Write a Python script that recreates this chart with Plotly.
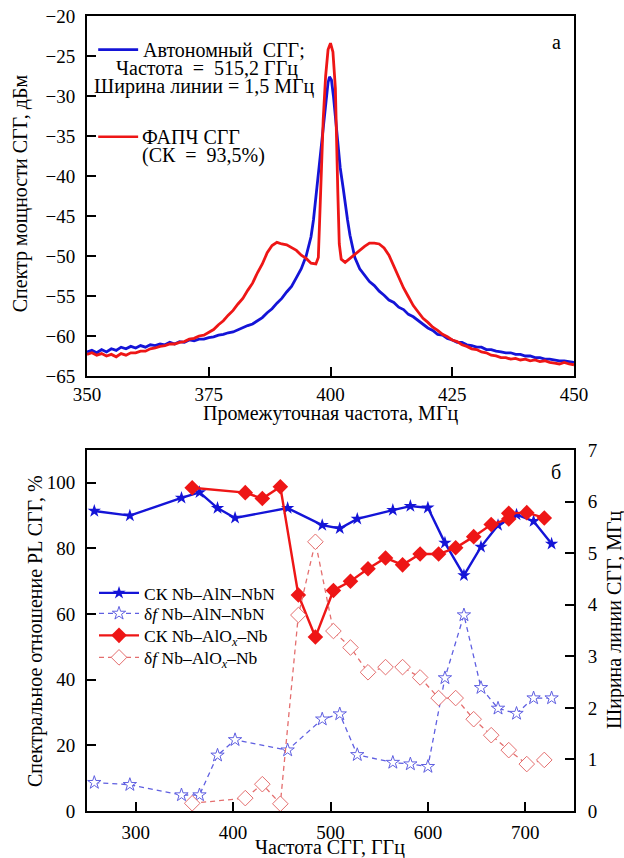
import plotly.graph_objects as go

# ---------------- panel (а): IF spectra ----------------
if_free = [350, 351, 352, 353, 354, 355, 356, 357, 358, 359, 360, 361, 362, 363, 364, 365,
           366, 367, 368, 369, 370, 371, 372, 373, 374, 375, 376, 377, 378, 379, 380, 381,
           382, 383, 384, 385, 386, 387, 388, 389, 390, 391, 392, 393, 394, 395, 396, 396.5,
           397, 397.5, 398, 398.5, 399, 399.5, 399.8, 400.2, 400.6, 401, 401.5, 402, 402.6,
           403, 403.5, 404, 405, 406, 407, 408, 409, 410, 411, 412, 413, 414, 415, 416, 417,
           418, 419, 420, 421, 422, 423, 424, 425, 426, 427, 428, 429, 430, 431, 432, 433,
           434, 435, 436, 437, 438, 439, 440, 441, 442, 443, 444, 445, 446, 447, 448, 449, 450]
p_free = [-62.0, -61.8, -62.1, -61.7, -62.0, -61.6, -61.8, -61.4, -61.6, -61.3, -61.5, -61.2,
          -61.4, -61.1, -61.2, -61.0, -61.1, -60.8, -61.0, -60.7, -60.8, -60.5, -60.6, -60.4,
          -60.4, -60.2, -60.1, -59.9, -59.8, -59.6, -59.5, -59.2, -59.0, -58.7, -58.5, -58.1,
          -57.7, -57.1, -56.6, -55.9, -55.3, -54.5, -53.8, -52.7, -51.6, -50.0, -47.6, -45.5,
          -42.5, -39.5, -36.5, -33.5, -30.5, -28.3, -27.6, -28.0, -30.0, -32.5, -35.8, -39.0,
          -41.5, -43.5, -45.5, -47.4, -50.2, -51.6, -52.4, -53.2, -53.7, -54.4, -54.9, -55.5,
          -55.8, -56.4, -56.7, -57.3, -57.6, -58.1, -58.5, -59.0, -59.3, -59.8, -59.9, -60.3,
          -60.5, -60.8, -60.8, -61.1, -61.2, -61.4, -61.4, -61.7, -61.7, -61.9, -62.0, -62.1,
          -62.1, -62.3, -62.3, -62.5, -62.5, -62.7, -62.7, -62.9, -62.9, -63.0, -63.1, -63.1,
          -63.2, -63.3]

if_pll = [350, 351, 352, 353, 354, 355, 356, 357, 358, 359, 360, 361, 362, 363, 364, 365,
          366, 367, 368, 369, 370, 371, 372, 373, 374, 375, 376, 377, 378, 379, 380, 381,
          382, 383, 384, 385, 386, 387, 388, 389, 390, 391, 392, 393, 394, 395, 396, 397,
          397.5, 397.8, 398.1, 398.5, 399, 399.5, 400, 400.5, 401, 401.3, 401.5, 401.8, 402.2,
          403, 404, 405, 406, 407, 408, 409, 410, 411, 412, 413, 414, 415, 416, 417, 418,
          419, 420, 421, 422, 423, 424, 425, 426, 427, 428, 429, 430, 431, 432, 433, 434,
          435, 436, 437, 438, 439, 440, 441, 442, 443, 444, 445, 446, 447, 448, 449, 450]
p_pll = [-62.3, -62.1, -62.4, -62.2, -62.5, -62.3, -62.6, -62.2, -62.4, -62.1, -62.1, -61.9,
         -61.9, -61.6, -61.5, -61.3, -61.2, -61.0, -61.0, -60.8, -60.7, -60.4, -60.3, -60.0,
         -59.9, -59.5, -59.2, -58.6, -58.1, -57.4, -56.8, -56.0, -55.3, -54.3, -53.4, -52.1,
         -51.0, -49.6, -48.7, -48.3, -48.5, -48.6, -49.0, -49.3, -49.9, -50.3, -50.9, -51.0,
         -50.2, -45.0, -40.0, -33.0, -27.5, -24.2, -23.4, -24.5, -29.0, -35.0, -42.0, -48.5,
         -50.4, -50.8, -50.3, -49.8, -49.2, -48.8, -48.4, -48.4, -48.5, -49.0, -49.9, -51.3,
         -52.6, -54.0, -55.1, -56.2, -57.0, -57.8, -58.3, -58.9, -59.3, -59.8, -60.1, -60.5,
         -60.7, -61.1, -61.3, -61.6, -61.7, -62.0, -62.1, -62.4, -62.5, -62.7, -62.7, -62.9,
         -62.8, -63.0, -62.9, -63.1, -63.0, -63.2, -63.1, -63.3, -63.4, -63.5, -63.3, -63.5,
         -63.6, -63.5]

# ---------------- panel (б): spectral ratio and linewidth ----------------
f_aln = [257.5, 294, 347, 365.5, 384, 402, 456, 491.5, 509.5, 527.5, 564, 582, 600, 617.5,
         637, 654.5, 672, 691, 708.5, 727]
ck_aln = [91.4, 90.0, 95.4, 97.1, 92.3, 89.3, 92.3, 87.1, 86.1, 89.0, 91.7, 92.9, 92.4, 81.7,
          71.8, 80.5, 87.1, 90.3, 88.3, 81.4]
df_aln = [0.55, 0.51, 0.31, 0.31, 1.08, 1.38, 1.18, 1.78, 1.88, 1.09, 0.94, 0.91, 0.86, 2.58,
          3.80, 2.39, 1.99, 1.89, 2.19, 2.19]

f_alox_ck = [358, 412.5, 430, 448.5, 467, 484.5, 503, 520.5, 538.5, 556.5, 574, 592, 611,
             628.5, 647, 665, 683, 683, 701.5, 719.5]
ck_alox = [98.5, 97.0, 95.2, 98.8, 65.8, 53.0, 67.2, 70.0, 73.8, 77.1, 75.0, 78.3, 78.3, 80.2,
           83.6, 87.3, 89.0, 90.7, 90.9, 89.3]
f_alox_df = [358, 412.5, 430, 448.5, 467, 484.5, 503, 520.5, 538.5, 556.5, 574, 592, 611,
             628.5, 647, 665, 683, 701.5, 719.5]
df_alox = [0.15, 0.25, 0.52, 0.14, 3.80, 5.22, 3.49, 3.17, 2.69, 2.79, 2.79, 2.59, 2.19, 2.19,
           1.78, 1.47, 1.18, 0.91, 0.99]

FONT = "Liberation Serif, Times New Roman, serif"
BLUE = "rgb(20,20,215)"
RED = "rgb(238,22,22)"
BLUE_D = "rgb(95,95,225)"
RED_D = "rgb(228,110,110)"

fig = go.Figure()

fig.add_trace(go.Scatter(x=if_free, y=p_free, mode="lines", line=dict(color=BLUE, width=2.8),
                         xaxis="x", yaxis="y", showlegend=False))
fig.add_trace(go.Scatter(x=if_pll, y=p_pll, mode="lines", line=dict(color=RED, width=2.8),
                         xaxis="x", yaxis="y", showlegend=False))

fig.add_trace(go.Scatter(x=f_aln, y=ck_aln, mode="lines+markers", name="СК Nb–AlN–NbN",
                         line=dict(color=BLUE, width=2.4),
                         marker=dict(symbol="star", size=10, color=BLUE),
                         xaxis="x2", yaxis="y2", legend="legend"))
fig.add_trace(go.Scatter(x=f_aln, y=df_aln, mode="lines+markers", name="δ<i>f</i> Nb–AlN–NbN",
                         line=dict(color=BLUE_D, width=1.3, dash="5px,4px"),
                         marker=dict(symbol="star", size=10, color="white",
                                     line=dict(color=BLUE_D, width=1)),
                         xaxis="x2", yaxis="y3", legend="legend2"))
fig.add_trace(go.Scatter(x=f_alox_ck, y=ck_alox, mode="lines+markers",
                         name="СК Nb–AlO<sub><i>x</i></sub>–Nb",
                         line=dict(color=RED, width=2.4),
                         marker=dict(symbol="diamond", size=12, color=RED),
                         xaxis="x2", yaxis="y2", legend="legend3"))
fig.add_trace(go.Scatter(x=f_alox_df, y=df_alox, mode="lines+markers",
                         name="δ<i>f</i> Nb–AlO<sub><i>x</i></sub>–Nb",
                         line=dict(color=RED_D, width=1.3, dash="5px,4px"),
                         marker=dict(symbol="diamond", size=12, color="white",
                                     line=dict(color=RED_D, width=1)),
                         xaxis="x2", yaxis="y3", legend="legend4"))

axis_common = dict(showgrid=False, zeroline=False, showline=True, linecolor="black",
                   linewidth=2, ticks="inside", ticklen=9, tickwidth=1.5, tickcolor="black",
                   tickfont=dict(family=FONT, size=19, color="black"), automargin=False)


def key_box(row_y):
    # one legend box per series, stacked as in a single key
    return dict(x=0.0144, y=row_y, xanchor="left", yanchor="middle",
                bgcolor="rgba(0,0,0,0)", itemwidth=40,
                font=dict(family=FONT, size=17.5, color="black"))


fig.update_layout(
    width=624, height=858,
    margin=dict(l=87, r=50, t=16, b=47),
    paper_bgcolor="white", plot_bgcolor="white",
    font=dict(family=FONT, size=19, color="black"),
    xaxis=dict(**axis_common, domain=[0, 1], anchor="y", range=[350, 450],
               tickvals=[350, 375, 400, 425, 450], mirror=True, ticklabelstandoff=0),
    yaxis=dict(**axis_common, domain=[0.5472, 1], anchor="x", range=[-65, -20],
               tickvals=[-65, -60, -55, -50, -45, -40, -35, -30, -25, -20], mirror=True,
               ticklabelstandoff=6),
    xaxis2=dict(**axis_common, domain=[0, 1], anchor="y2", range=[250, 750],
                tickvals=[300, 400, 500, 600, 700], mirror=True, ticklabelstandoff=3),
    yaxis2=dict(**axis_common, domain=[0, 0.4541], anchor="x2", range=[0, 110],
                tickvals=[0, 20, 40, 60, 80, 100], ticklabelstandoff=6),
    yaxis3=dict(**axis_common, overlaying="y2", side="right", anchor="x2", range=[0, 7],
                tickvals=[0, 1, 2, 3, 4, 5, 6, 7], ticklabelstandoff=8),
    legend=key_box(0.2742),
    legend2=key_box(0.2484),
    legend3=key_box(0.2208),
    legend4=key_box(0.1931),
)

# axis titles
titles = [
    dict(x=0.499, y=0.5, text="Промежуточная частота, МГц", textangle=0),
    dict(x=0.499, y=-0.0455, text="Частота СГГ, ГГц", textangle=0),
    dict(x=-0.1376, y=0.777, text="Спектр мощности СГГ, дБм", textangle=-90),
    dict(x=-0.1068, y=0.2264, text="Спектральное отношение PL СГГ, %", textangle=-90),
    dict(x=1.0842, y=0.2403, text="Ширина линии СГГ, МГц", textangle=-90),
]
for t in titles:
    fig.add_annotation(xref="paper", yref="paper", showarrow=False, xanchor="center",
                       yanchor="middle", font=dict(family=FONT, size=20, color="black"), **t)

# key for panel (а)
fig.add_shape(type="line", xref="x", yref="y", x0=352.3, x1=360.5, y0=-24.2, y1=-24.2,
              line=dict(color=BLUE, width=2.6))
fig.add_shape(type="line", xref="x", yref="y", x0=352.3, x1=360.5, y0=-35.1, y1=-35.1,
              line=dict(color=RED, width=2.6))

NB = "\u00a0"
notes = [
    dict(x=361.0, y=-24.2, text=f"Автономный{NB}{NB}СГГ;", xanchor="left"),
    dict(x=374.6, y=-26.6, text=f"Частота{NB}{NB}={NB}{NB}515,2 ГГц", xanchor="center"),
    dict(x=374.2, y=-28.8, text="Ширина линии = 1,5 МГц", xanchor="center"),
    dict(x=360.8, y=-35.1, text="ФАПЧ СГГ", xanchor="left"),
    dict(x=360.8, y=-37.5, text=f"(СК{NB}{NB}={NB}{NB}93,5%)", xanchor="left"),
    dict(x=446.5, y=-23.3, text="а", xanchor="center"),
]
for n in notes:
    fig.add_annotation(xref="x", yref="y", showarrow=False, yanchor="middle",
                       font=dict(family=FONT, size=20, color="black"), **n)
fig.add_annotation(xref="x2", yref="y2", x=731.5, y=103.4, text="б", showarrow=False,
                   xanchor="center", yanchor="middle",
                   font=dict(family=FONT, size=20, color="black"))

fig.write_html("out.html")
